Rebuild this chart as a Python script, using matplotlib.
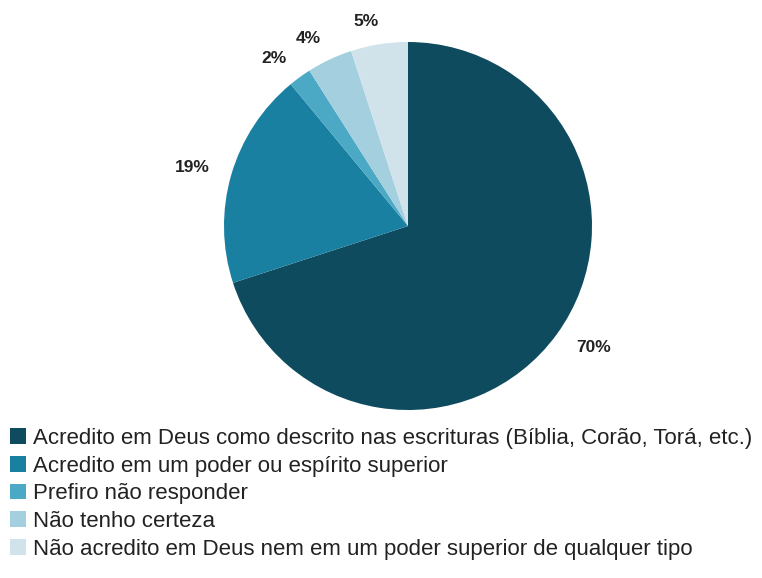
import matplotlib.pyplot as plt

plt.rcParams['font.family'] = ['Liberation Sans', 'DejaVu Sans']

labels = [
    'Acredito em Deus como descrito nas escrituras (Bíblia, Corão, Torá, etc.)',
    'Acredito em um poder ou espírito superior',
    'Prefiro não responder',
    'Não tenho certeza',
    'Não acredito em Deus nem em um poder superior de qualquer tipo',
]
values = [70, 19, 2, 4, 5]
colors = ['#0e4b5f', '#1a80a2', '#4ba9c5', '#a4cfdf', '#d0e3ea']
# label centres, in pie-radius units
label_pos = [(1.01, -0.66), (-1.17, 0.32), (-0.73, 0.91), (-0.54, 1.02), (-0.23, 1.11)]

fig = plt.figure(figsize=(7.62, 5.78), dpi=100)
cx, cy, r = 408, 226, 184
ax = fig.add_axes([(cx - r) / 762, 1 - (cy + r) / 578, 2 * r / 762, 2 * r / 578])

wedges, texts, autotexts = ax.pie(values, colors=colors, startangle=90, counterclock=False,
                                  autopct='%d%%', pctdistance=1.17,
                                  textprops=dict(fontsize=12.5, fontweight='bold', color='#222222'))
for t, p in zip(autotexts, label_pos):
    t.set_position(p)
ax.set_xlim(-1, 1)
ax.set_ylim(-1, 1)
ax.set_aspect('equal')
ax.axis('off')

fig.legend(wedges, labels, loc='upper left', bbox_to_anchor=(0.013, 1 - 428 / 578),
           frameon=False, fontsize=16, handlelength=0.72, handleheight=0.72,
           handletextpad=0.32, labelspacing=0.3, borderaxespad=0, borderpad=0,
           labelcolor='#222222')

plt.savefig('out.png', dpi=100)
plt.close()
